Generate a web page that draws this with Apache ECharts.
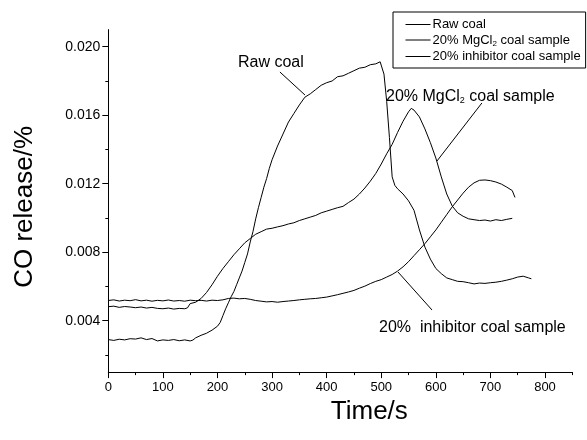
<!DOCTYPE html>
<html><head><meta charset="utf-8">
<script src="https://cdn.jsdelivr.net/npm/echarts@6/dist/echarts.min.js"></script>
<style>html,body{margin:0;padding:0;background:#fff}#c{width:587px;height:440px}</style>
</head><body><div id="c"></div>
<script>
// ---- data ----
const seriesNames = ['Raw coal', '20% MgCl2 coal sample', '20% inhibitor coal sample'];

const rawTime = [0,10,20,30,40,50,60,70,80,90,100,110,120,130,140,150,155,160,170,180,190,200,
  205,210,215,220,225,230,235,240,245,250,255,260,265,270,275,280,285,290,295,300,
  310,320,330,340,350,360,370,380,390,400,410,420,430,440,450,460,470,480,490,498,
  505,510,515,520,525,530,540,550,560,570,580,590,600,610,620,630,640,650,660,670,680,690,700,710,720,730,740,750,760,770,775];
const rawValue = [.00290,.00285,.00292,.00288,.00295,.00293,.00300,.00290,.00296,.00282,.00288,.00285,.00290,.00283,.00288,.00282,.00287,.00300,.00315,.00327,.00345,.00368,
  .00390,.00430,.00470,.00505,.00540,.00570,.00610,.00650,.00690,.00740,.00790,.00860,.00920,.00995,.01060,.01120,.01180,.01230,.01290,.01340,
  .01420,.01490,.01560,.01610,.01660,.01705,.01725,.01750,.01775,.01790,.01800,.01825,.01830,.01845,.01860,.01875,.01880,.01895,.01900,.01912,
  .01840,.01680,.01470,.01240,.01190,.01170,.01140,.01100,.01045,.00930,.00830,.00760,.00705,.00675,.00650,.00640,.00630,.00628,.00622,.00615,.00620,.00618,.00622,.00625,.00630,.00637,.00645,.00655,.00660,.00650,.00645];

const mgTime = [0,10,20,30,40,50,60,70,80,90,100,110,120,130,140,145,150,
  160,170,180,190,200,210,220,230,240,250,260,270,280,290,300,310,320,330,340,350,360,370,380,390,400,410,420,430,440,450,460,470,480,490,500,510,520,530,540,550,
  555,560,570,580,590,600,610,620,630,640,650,660,670,680,690,700,710,720,730,740];
const mgValue = [.00482,.00485,.00478,.00483,.00480,.00476,.00480,.00474,.00478,.00472,.00470,.00474,.00468,.00472,.00470,.00475,.00500,
  .00508,.00530,.00565,.00610,.00660,.00705,.00745,.00785,.00820,.00855,.00880,.00905,.00920,.00935,.00940,.00948,.00955,.00965,.00972,.00985,.00995,.01005,.01015,.01030,.01040,.01050,.01060,.01068,.01090,.01110,.01140,.01175,.01215,.01260,.01315,.01375,.01430,.01500,.01565,.01620,
  .01640,.01630,.01590,.01520,.01440,.01350,.01240,.01140,.01070,.01030,.01010,.00995,.00990,.00985,.00988,.00982,.00990,.00985,.00992,.00998];

const inhTime = [0,10,20,30,40,50,60,70,80,90,100,110,120,130,140,150,160,170,180,190,200,210,220,230,240,250,260,270,280,290,300,
  310,320,330,340,350,360,370,380,390,400,410,420,430,440,450,460,470,480,490,500,510,520,530,540,550,560,570,580,590,600,
  610,620,630,640,650,660,670,680,690,700,710,720,730,740,745];
const inhValue = [.00518,.00522,.00515,.00520,.00517,.00523,.00516,.00520,.00514,.00519,.00516,.00521,.00515,.00518,.00514,.00520,.00517,.00519,.00515,.00520,.00518,.00522,.00530,.00532,.00528,.00530,.00525,.00518,.00514,.00510,.00512,
  .00508,.00512,.00515,.00518,.00522,.00525,.00528,.00530,.00534,.00538,.00545,.00552,.00560,.00568,.00577,.00590,.00602,.00617,.00630,.00640,.00655,.00670,.00690,.00715,.00745,.00780,.00815,.00850,.00890,.00930,
  .00975,.01020,.01065,.01105,.01145,.01180,.01205,.01220,.01222,.01218,.01210,.01198,.01180,.01160,.01120];

const xMajorTicks = [0,100,200,300,400,500,600,700,800];
const xMinorTicks = [50,150,250,350,450,550,650,750,850];
const yMajorTicks = [0.004,0.008,0.012,0.016,0.020];
const yMinorTicks = [0.002,0.006,0.010,0.014,0.018];

// annotation texts and leader lines (data coordinates)
const noteTexts = [
  {text: 'Raw coal', at: [237.6, 0.01905]},
  {text: '20% MgCl{s|2} coal sample', at: [508.7, 0.01710]},
  {text: '20%  inhibitor coal sample', at: [495.9, 0.00358]}
];
const noteLeaders = [
  [[314.4, 0.018524], [360.3, 0.017181]],
  [[684.4, 0.016714], [602.1, 0.013327]],
  [[593.0, 0.004627], [530.7, 0.006845]]
];

// ---- chart ----
const FF = '"Liberation Sans", Arial, Helvetica, sans-serif';
const pair = (ts, vs) => ts.map((t, i) => [t, vs[i]]);
const chart = echarts.init(document.getElementById('c'), null, {renderer: 'canvas'});
const black = '#000';

function mkSeries(name, data) {
  return {name, type: 'line', data, symbol: 'none', showSymbol: false, smooth: false,
    lineStyle: {color: black, width: 1}, itemStyle: {color: black},
    xAxisIndex: 0, yAxisIndex: 0, animation: false, z: 3};
}

chart.setOption({
  animation: false,
  backgroundColor: '#fff',
  textStyle: {fontFamily: FF},
  grid: {left: 108.3, top: 29.6, width: 464, height: 342.5, containLabel: false},
  legend: {
    show: true,
    orient: 'vertical', left: 393, top: 12,
    itemWidth: 25, itemHeight: 14, itemGap: 2.5,
    padding: [6, 5, 5, 12],
    borderColor: black, borderWidth: 1, borderRadius: 0,
    backgroundColor: '#fff',
    itemStyle: {opacity: 0},
    lineStyle: {color: black, width: 1, opacity: 1},
    formatter: n => n === seriesNames[1] ? '20% MgCl{s|2} coal sample' : n,
    textStyle: {fontFamily: FF, fontSize: 13, color: black, padding: [0, 0, 0, -3],
      rich: {s: {fontSize: 8, fontFamily: FF, color: black, padding: [7, 0, 0, 0], verticalAlign: 'bottom'}}},
    data: seriesNames
  },
  xAxis: [
    {type: 'value', min: 0, max: 850, position: 'bottom',
     axisLine: {show: true, onZero: false, lineStyle: {color: black, width: 1}},
     axisTick: {show: true, customValues: xMajorTicks, length: 6, lineStyle: {color: black, width: 1}},
     axisLabel: {customValues: xMajorTicks, fontSize: 13, color: black, margin: 9, fontFamily: FF},
     splitLine: {show: false},
     name: 'Time/s', nameLocation: 'middle', nameGap: 24,
     nameTextStyle: {fontSize: 26, color: black, fontFamily: FF, padding: [0, 0, 0, 58]}},
    {type: 'value', min: 0, max: 850, position: 'bottom', offset: 0,
     axisLine: {show: false, onZero: false},
     axisTick: {show: true, customValues: xMinorTicks, length: 3, lineStyle: {color: black, width: 1}},
     axisLabel: {show: false, customValues: []}, splitLine: {show: false}}
  ],
  yAxis: [
    {type: 'value', min: 0.001, max: 0.021, position: 'left',
     axisLine: {show: true, onZero: false, lineStyle: {color: black, width: 1}},
     axisTick: {show: true, customValues: yMajorTicks, length: 6, lineStyle: {color: black, width: 1}},
     axisLabel: {customValues: yMajorTicks, fontSize: 14, color: black, margin: 8, fontFamily: FF,
       formatter: v => Number(v).toFixed(3)},
     splitLine: {show: false},
     name: 'CO release/%', nameLocation: 'middle', nameGap: 70, nameRotate: 90,
     nameTextStyle: {fontSize: 26, color: black, fontFamily: FF, padding: [0, 12, 0, 0]}},
    {type: 'value', min: 0.001, max: 0.021, position: 'left', offset: 0,
     axisLine: {show: false, onZero: false},
     axisTick: {show: true, customValues: yMinorTicks, length: 3, lineStyle: {color: black, width: 1}},
     axisLabel: {show: false, customValues: []}, splitLine: {show: false}}
  ],
  series: [
    mkSeries(seriesNames[0], pair(rawTime, rawValue)),
    mkSeries(seriesNames[1], pair(mgTime, mgValue)),
    mkSeries(seriesNames[2], pair(inhTime, inhValue))
  ]
});

const toPx = p => chart.convertToPixel({xAxisIndex: 0, yAxisIndex: 0}, p);
const graphics = [];
noteTexts.forEach(n => {
  const p = toPx(n.at);
  graphics.push({type: 'text', x: p[0], y: p[1], z: 10, silent: true,
    style: {text: n.text, fill: black, font: '16px ' + FF, align: 'left', verticalAlign: 'middle',
      rich: {s: {fontSize: 9, fontFamily: FF, fill: black, padding: [8, 0, 0, 0], verticalAlign: 'bottom'}}}});
});
noteLeaders.forEach(l => {
  const a = toPx(l[0]), b = toPx(l[1]);
  graphics.push({type: 'line', z: 10, silent: true,
    shape: {x1: a[0], y1: a[1], x2: b[0], y2: b[1]}, style: {stroke: black, lineWidth: 1}});
});
chart.setOption({graphic: graphics});
</script>
</body></html>
